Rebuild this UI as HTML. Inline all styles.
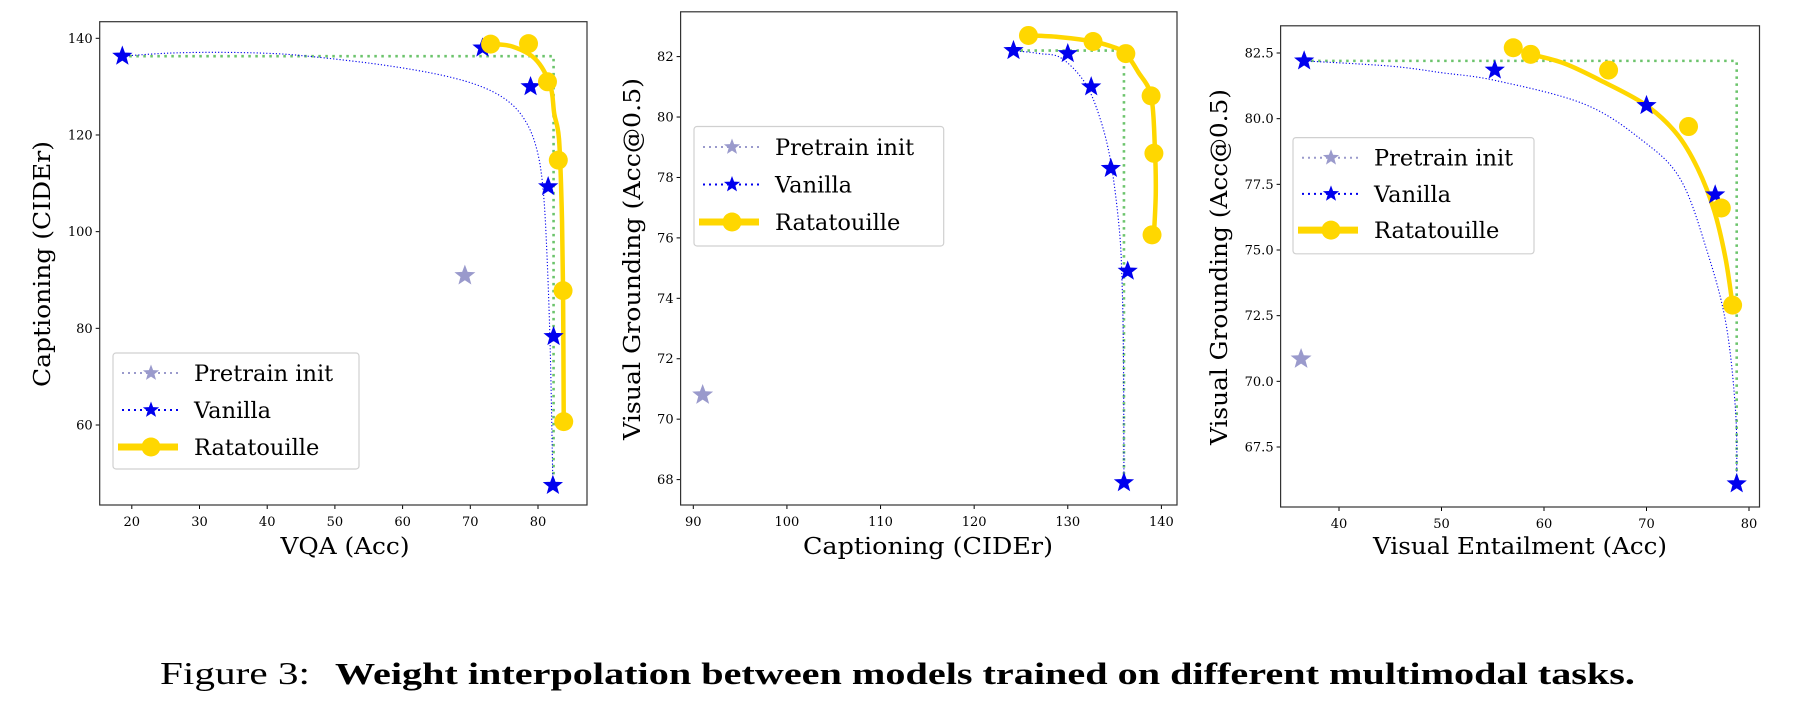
<!DOCTYPE html>
<html><head><meta charset="utf-8"><style>
html,body{margin:0;padding:0;background:#fff;}
svg{display:block;}
text{font-family:"DejaVu Serif","Liberation Serif",serif;fill:#000;}
</style></head><body>
<svg id="fig" width="1807" height="711" viewBox="0 0 1807 711" xmlns="http://www.w3.org/2000/svg">
<text x="160" y="684" style="font-family:'Liberation Serif',serif;font-size:32px" textLength="150" lengthAdjust="spacingAndGlyphs">Figure 3:</text>
<text x="335" y="684" style="font-family:'Liberation Serif',serif;font-size:31px;font-weight:bold" textLength="1300" lengthAdjust="spacingAndGlyphs">Weight interpolation between models trained on different multimodal tasks.</text>
</svg>
<script>
// ---- Panel 1: VQA vs Captioning ----
const p1XTicks = [20, 30, 40, 50, 60, 70, 80];
const p1YTicks = [60, 80, 100, 120, 140];
const p1PretrainX = [69.2];
const p1PretrainY = [90.9];
const p1VanillaX = [18.6, 71.8, 78.9, 81.5, 82.3, 82.2];
const p1VanillaY = [136.3, 138.0, 130.0, 109.3, 78.3, 47.5];
const p1VanillaCurveX = [18.6, 25, 32, 40, 46, 57, 66, 72, 76, 78.5, 80, 80.8, 81.3, 81.8, 82.2];
const p1VanillaCurveY = [136.3, 136.9, 137.1, 136.9, 136.3, 134.5, 132.3, 129.8, 126.5, 122, 116, 108, 96, 76, 47.5];
const p1RataX = [73.0, 78.6, 81.4, 83.0, 83.7, 83.8];
const p1RataY = [138.8, 138.9, 131.0, 114.8, 87.8, 60.7];
const p1RataCurveX = [73.0, 76.2, 79.6, 81.8, 82.4, 83.1, 83.5, 83.7, 83.8];
const p1RataCurveY = [138.8, 138.3, 135.7, 130.3, 124.4, 119.2, 105, 87.8, 60.7];
const p1OracleX = [18.6, 82.3, 82.3];
const p1OracleY = [136.3, 136.3, 47.5];

// ---- Panel 2: Captioning vs Visual Grounding ----
const p2XTicks = [90, 100, 110, 120, 130, 140];
const p2YTicks = [68, 70, 72, 74, 76, 78, 80, 82];
const p2PretrainX = [91.0];
const p2PretrainY = [70.8];
const p2VanillaX = [124.2, 130.0, 132.5, 134.6, 136.4, 136.0];
const p2VanillaY = [82.2, 82.1, 81.0, 78.3, 74.9, 67.9];
const p2VanillaCurveX = [124.2, 127, 129.3, 131.8, 133.4, 134.6, 135.5, 135.8, 135.95, 136.0];
const p2VanillaCurveY = [82.2, 82.1, 81.95, 81.15, 80.0, 78.5, 76.3, 74.5, 72.0, 67.9];
const p2RataX = [125.8, 132.7, 136.2, 138.9, 139.2, 139.0];
const p2RataY = [82.7, 82.5, 82.1, 80.7, 78.8, 76.1];
const p2RataCurveX = [125.8, 129, 132.7, 135, 136.2, 137.5, 138.9, 139.3, 139.4, 139.2];
const p2RataCurveY = [82.7, 82.65, 82.5, 82.3, 82.1, 81.5, 80.7, 79.0, 77.5, 76.1];
const p2OracleX = [124.2, 136.0, 136.0];
const p2OracleY = [82.2, 82.2, 67.9];

// ---- Panel 3: Visual Entailment vs Visual Grounding ----
const p3XTicks = [40, 50, 60, 70, 80];
const p3YTicks = [67.5, 70.0, 72.5, 75.0, 77.5, 80.0, 82.5];
const p3YTickLabels = ["67.5", "70.0", "72.5", "75.0", "77.5", "80.0", "82.5"];
const p3PretrainX = [36.3];
const p3PretrainY = [70.85];
const p3VanillaX = [36.6, 55.2, 70.0, 76.7, 78.8];
const p3VanillaY = [82.2, 81.85, 80.5, 77.1, 66.1];
const p3VanillaCurveX = [36.6, 45, 50, 55.3, 63.9, 69.5, 73.3, 75.9, 77.75, 78.7, 78.8];
const p3VanillaCurveY = [82.2, 82.0, 81.75, 81.45, 80.56, 79.2, 77.7, 74.97, 72.2, 68.8, 66.1];
const p3RataX = [57.0, 58.7, 66.3, 74.1, 77.3, 78.4];
const p3RataY = [82.7, 82.45, 81.85, 79.7, 76.6, 72.9];
const p3RataCurveX = [58.7, 62, 65.8, 70, 73, 75, 76.6, 77.7, 78.4];
const p3RataCurveY = [82.45, 82.1, 81.4, 80.5, 79.4, 78.1, 76.5, 74.7, 72.9];
const p3OracleX = [36.6, 78.8, 78.8];
const p3OracleY = [82.2, 82.2, 66.1];

const NS = "http://www.w3.org/2000/svg";
const svg = document.getElementById("fig");
function mk(tag, attrs, parent) {
  const e = document.createElementNS(NS, tag);
  for (const k in attrs) e.setAttribute(k, attrs[k]);
  (parent || svg).appendChild(e);
  return e;
}
function linScale(d0, d1, r0, r1) { return v => r0 + (v - d0) * (r1 - r0) / (d1 - d0); }
function starPts(cx, cy, r) {
  const pts = [];
  for (let i = 0; i < 10; i++) {
    const rr = i % 2 === 0 ? r : r * 0.42;
    const a = -Math.PI / 2 + i * Math.PI / 5;
    pts.push((cx + rr * Math.cos(a)).toFixed(2) + "," + (cy + rr * Math.sin(a)).toFixed(2));
  }
  return pts.join(" ");
}
function pathFrom(xs, ys, sx, sy, smooth) {
  const P = xs.map((x, i) => [sx(x), sy(ys[i])]);
  if (!smooth) return "M" + P.map(p => p[0].toFixed(2) + "," + p[1].toFixed(2)).join(" L");
  let d = "M" + P[0][0].toFixed(2) + "," + P[0][1].toFixed(2);
  for (let i = 0; i < P.length - 1; i++) {
    const p0 = P[i - 1] || P[i], p1 = P[i], p2 = P[i + 1], p3 = P[i + 2] || p2;
    const c1 = [p1[0] + (p2[0] - p0[0]) / 6, p1[1] + (p2[1] - p0[1]) / 6];
    const c2 = [p2[0] - (p3[0] - p1[0]) / 6, p2[1] - (p3[1] - p1[1]) / 6];
    d += " C" + c1.map(v => v.toFixed(2)).join(",") + " " + c2.map(v => v.toFixed(2)).join(",") + " " + p2.map(v => v.toFixed(2)).join(",");
  }
  return d;
}
const BLUE = "#0000ee", LAV = "#9a9acc", GOLD = "#ffd700", GREEN = "#6cc46c";

function panel(cfg) {
  const g = mk("g", {});
  
  
  const sx = linScale(cfg.xd[0], cfg.xd[1], cfg.xr[0], cfg.xr[1]);
  const sy = linScale(cfg.yd[0], cfg.yd[1], cfg.yr[0], cfg.yr[1]);
  const B = cfg.box;
  cfg.xticks.forEach(t => {
    const x = sx(t);
    const tl = mk("line", { x1: x, x2: x, y1: B[3], y2: B[3] + 4, stroke: "#000", "stroke-width": 1 }, g);
    
    
    const tx = mk("text", { x: x, y: B[3] + 21, "text-anchor": "middle", "font-size": 13 }, g);
    
    
    tx.textContent = String(t);
  });
  cfg.yticks.forEach((t, i) => {
    const y = sy(t);
    const tl = mk("line", { x1: B[0] - 4, x2: B[0], y1: y, y2: y, stroke: "#000", "stroke-width": 1 }, g);
    
    
    const tx = mk("text", { x: B[0] - 7, y: y + 4.5, "text-anchor": "end", "font-size": 13 }, g);
    
    
    tx.textContent = cfg.ylabels ? cfg.ylabels[i] : String(t);
  });
  const og = mk("path", { d: pathFrom(cfg.oX, cfg.oY, sx, sy, false), fill: "none", stroke: GREEN, "stroke-width": 2.6, "stroke-dasharray": "2.5,4.5" }, g);
  
  
  const vc = mk("path", { d: pathFrom(cfg.vcX, cfg.vcY, sx, sy, true), fill: "none", stroke: BLUE, "stroke-width": 1.1, "stroke-dasharray": "1.2,2" }, g);
  
  
  cfg.pX.forEach((x, i) => {
    const s = mk("polygon", { points: starPts(sx(x), sy(cfg.pY[i]), 11), fill: LAV }, g);
    
    
  });
  const rc = mk("path", { d: pathFrom(cfg.rcX, cfg.rcY, sx, sy, true), fill: "none", stroke: GOLD, "stroke-width": 4.5, "stroke-linecap": "round" }, g);
  
  
  cfg.vX.forEach((x, i) => {
    const s = mk("polygon", { points: starPts(sx(x), sy(cfg.vY[i]), 9.5), fill: BLUE, stroke: BLUE, "stroke-width": 0.8 }, g);
    
    
  });
  cfg.rX.forEach((x, i) => {
    const c = mk("circle", { cx: sx(x), cy: sy(cfg.rY[i]), r: 9.5, fill: GOLD }, g);
    
    
  });
  const fr = mk("rect", { x: B[0], y: B[1], width: B[2] - B[0], height: B[3] - B[1], fill: "none", stroke: "#333", "stroke-width": 1.2 }, g);
  
  
  const xl = mk("text", { x: cfg.xlab[1], y: cfg.xlab[2], "text-anchor": "middle", "font-size": 23, textLength: cfg.xlab[3], lengthAdjust: "spacingAndGlyphs" }, g);
  
  
  xl.textContent = cfg.xlab[0];
  const yl = mk("text", { x: 0, y: 0, "text-anchor": "middle", "font-size": 23, textLength: cfg.ylab[3], lengthAdjust: "spacingAndGlyphs", transform: "translate(" + cfg.ylab[1] + "," + cfg.ylab[2] + ") rotate(-90)" }, g);
  
  
  yl.textContent = cfg.ylab[0];
  const L = cfg.leg;
  const lg = mk("g", {}, g);
  
  
  mk("rect", { x: L[0], y: L[1], width: L[2] - L[0], height: L[3] - L[1], rx: 3, fill: "#fff", "fill-opacity": 0.85, stroke: "#d0d0d0", "stroke-width": 1.2 }, lg);
  const rows = [["Pretrain init", "pre"], ["Vanilla", "van"], ["Ratatouille", "rat"]];
  const lx0 = L[0] + 9, lx1 = L[0] + 67, mx = (lx0 + lx1) / 2, tx = L[0] + 81;
  rows.forEach((r, i) => {
    const y = L[4] + i * L[5];
    const e = mk("g", {}, lg);
    
    
    if (r[1] === "pre") {
      mk("line", { x1: lx0, x2: lx1, y1: y, y2: y, stroke: LAV, "stroke-width": 2, "stroke-dasharray": "2,4" }, e);
      mk("polygon", { points: starPts(mx, y, 8.5), fill: LAV }, e);
    } else if (r[1] === "van") {
      mk("line", { x1: lx0, x2: lx1, y1: y, y2: y, stroke: BLUE, "stroke-width": 2, "stroke-dasharray": "2,4" }, e);
      mk("polygon", { points: starPts(mx, y, 8.5), fill: BLUE }, e);
    } else {
      mk("line", { x1: lx0 - 4, x2: lx1 - 2, y1: y, y2: y, stroke: GOLD, "stroke-width": 7 }, e);
      mk("circle", { cx: mx, cy: y, r: 9.5, fill: GOLD }, e);
    }
    const t = mk("text", { x: tx, y: y + 8, "font-size": 22.5 }, e);
    t.textContent = r[0];
  });
}

panel({ name: "vqa-captioning-panel", box: [99.7, 21.7, 587, 505],
  xd: [20, 80], xr: [131.8, 538], yd: [60, 140], yr: [425, 38.3],
  xticks: p1XTicks, yticks: p1YTicks,
  pX: p1PretrainX, pY: p1PretrainY, vX: p1VanillaX, vY: p1VanillaY,
  vcX: p1VanillaCurveX, vcY: p1VanillaCurveY, rX: p1RataX, rY: p1RataY,
  rcX: p1RataCurveX, rcY: p1RataCurveY, oX: p1OracleX, oY: p1OracleY,
  xlab: ["VQA (Acc)", 345, 554, 129], ylab: ["Captioning (CIDEr)", 50, 264, 246],
  leg: [113, 353, 359, 469, 373, 37] });

panel({ name: "captioning-grounding-panel", box: [680.6, 11.8, 1177, 505],
  xd: [90, 140], xr: [693.3, 1161.4], yd: [68, 82], yr: [479.6, 56.6],
  xticks: p2XTicks, yticks: p2YTicks,
  pX: p2PretrainX, pY: p2PretrainY, vX: p2VanillaX, vY: p2VanillaY,
  vcX: p2VanillaCurveX, vcY: p2VanillaCurveY, rX: p2RataX, rY: p2RataY,
  rcX: p2RataCurveX, rcY: p2RataCurveY, oX: p2OracleX, oY: p2OracleY,
  xlab: ["Captioning (CIDEr)", 928, 554, 250], ylab: ["Visual Grounding (Acc@0.5)", 640, 259, 362],
  leg: [694, 126.5, 943.7, 246, 147, 37.5] });

panel({ name: "entailment-grounding-panel", box: [1280.6, 25.8, 1759.5, 507],
  xd: [40, 80], xr: [1339, 1749], yd: [67.5, 82.5], yr: [447, 53],
  xticks: p3XTicks, yticks: p3YTicks, ylabels: p3YTickLabels,
  pX: p3PretrainX, pY: p3PretrainY, vX: p3VanillaX, vY: p3VanillaY,
  vcX: p3VanillaCurveX, vcY: p3VanillaCurveY, rX: p3RataX, rY: p3RataY,
  rcX: p3RataCurveX, rcY: p3RataCurveY, oX: p3OracleX, oY: p3OracleY,
  xlab: ["Visual Entailment (Acc)", 1520, 554, 294], ylab: ["Visual Grounding (Acc@0.5)", 1227, 267, 356],
  leg: [1293, 137.6, 1534, 253.8, 157.7, 36.2] });
</script>
</body></html>
